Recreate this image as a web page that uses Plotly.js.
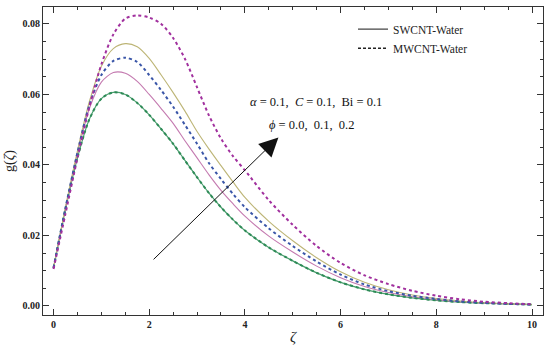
<!DOCTYPE html>
<html>
<head>
<meta charset="utf-8">
<script src="https://cdn.plot.ly/plotly-3.0.1.min.js"></script>
<style>html,body{margin:0;padding:0;background:#fff;}#chart{width:550px;height:350px;}</style>
</head>
<body>
<div id="chart"></div>
<script>
// zeta grid
var zeta = [0, 0.25, 0.5, 0.75, 1.0, 1.25, 1.5, 1.75, 2.0, 2.25, 2.5, 2.75, 3.0, 3.25, 3.5, 3.75, 4.0, 4.5, 5.0, 5.5, 6.0, 6.5, 7.0, 7.5, 8.0, 8.5, 9.0, 9.5, 10];

// SWCNT-Water (solid)
var sw_phi00 = [0.0108, 0.0275, 0.0420, 0.0530, 0.0588, 0.0606, 0.0600, 0.0576, 0.0542, 0.0502, 0.0460, 0.0412, 0.0365, 0.0320, 0.0280, 0.0245, 0.0214, 0.0166, 0.0128, 0.0094, 0.0067, 0.0047, 0.0033, 0.0023, 0.0016, 0.0011, 0.0008, 0.0006, 0.0004];
var sw_phi01 = [0.0108, 0.0278, 0.0432, 0.0560, 0.0635, 0.0662, 0.0660, 0.0637, 0.0600, 0.0560, 0.0518, 0.0468, 0.0420, 0.0372, 0.0328, 0.0290, 0.0255, 0.0198, 0.0153, 0.0113, 0.0080, 0.0055, 0.0038, 0.0026, 0.0018, 0.0012, 0.0008, 0.0006, 0.0004];
var sw_phi02 = [0.0108, 0.0280, 0.0440, 0.0580, 0.0680, 0.0730, 0.0744, 0.0735, 0.0702, 0.0655, 0.0605, 0.0552, 0.0495, 0.0445, 0.0398, 0.0352, 0.0308, 0.0240, 0.0185, 0.0137, 0.0097, 0.0067, 0.0046, 0.0031, 0.0021, 0.0014, 0.0009, 0.0006, 0.0004];

// MWCNT-Water (dashed)
var mw_phi00 = sw_phi00.slice();
var mw_phi01 = [0.0108, 0.0278, 0.0435, 0.0570, 0.0655, 0.0695, 0.0704, 0.0692, 0.0655, 0.0612, 0.0565, 0.0513, 0.0460, 0.0405, 0.0360, 0.0318, 0.0280, 0.0220, 0.0170, 0.0126, 0.0089, 0.0061, 0.0042, 0.0029, 0.0020, 0.0013, 0.0009, 0.0006, 0.0004];
var mw_phi02 = [0.0105, 0.0262, 0.0420, 0.0565, 0.0685, 0.0770, 0.0815, 0.0824, 0.0818, 0.0800, 0.0760, 0.0700, 0.0620, 0.0540, 0.0475, 0.0425, 0.0385, 0.0300, 0.0230, 0.0170, 0.0122, 0.0087, 0.0062, 0.0043, 0.0029, 0.0019, 0.0012, 0.0008, 0.0005];

var legendNames = ['SWCNT-Water', 'MWCNT-Water'];
var xTicks = [0, 2, 4, 6, 8, 10];
var yTicks = [0.00, 0.02, 0.04, 0.06, 0.08];

function curve(y, color, dash, width) {
  return {x: zeta, y: y, type: 'scatter', mode: 'lines',
    line: {color: color, width: width, dash: dash, shape: 'spline', smoothing: 0.8},
    showlegend: false, hoverinfo: 'skip'};
}

var traces = [
  curve(sw_phi00, '#4a9e6e', 'solid', 1.2),
  curve(sw_phi01, '#c47ab0', 'solid', 1.1),
  curve(sw_phi02, '#bdb576', 'solid', 1.1),
  curve(mw_phi00, '#2e8b57', 'dot', 2),
  curve(mw_phi01, '#3a56a8', 'dot', 2),
  curve(mw_phi02, '#a1309e', 'dot', 2),
  {x: [null], y: [null], type: 'scatter', mode: 'lines', name: legendNames[0],
    line: {color: '#444', width: 1.2, dash: 'solid'}},
  {x: [null], y: [null], type: 'scatter', mode: 'lines', name: legendNames[1],
    line: {color: '#222', width: 1.4, dash: '3px,2px'}}
];

var tickFont = {family: 'Liberation Serif, Times New Roman, serif', size: 10, color: '#222', weight: 'bold'};

var layout = {
  width: 550, height: 350,
  margin: {l: 43, r: 7, t: 7, b: 35},
  paper_bgcolor: '#fff', plot_bgcolor: '#fff',
  font: {family: 'Liberation Serif, Times New Roman, serif', color: '#222'},
  xaxis: {
    range: [-0.22, 10.23], tickvals: xTicks, ticktext: xTicks.map(String),
    ticks: 'inside', ticklen: 6, tickwidth: 1, tickcolor: '#333',
    showline: true, linecolor: '#333', linewidth: 1, mirror: 'ticks',
    showgrid: false, zeroline: false, tickfont: tickFont,
    minor: {dtick: 0.5, tick0: 0, ticks: 'inside', ticklen: 3, tickcolor: '#333', showgrid: false},
    title: {text: '<i>ζ</i>', font: {family: 'Liberation Serif, serif', size: 15, color: '#222'}, standoff: 2}
  },
  yaxis: {
    range: [-0.00256, 0.0848], tickvals: yTicks, ticktext: yTicks.map(function(v){return v.toFixed(2);}),
    ticks: 'inside', ticklen: 6, tickwidth: 1, tickcolor: '#333',
    showline: true, linecolor: '#333', linewidth: 1, mirror: 'ticks',
    showgrid: false, zeroline: false, tickfont: tickFont,
    minor: {dtick: 0.005, tick0: 0, ticks: 'inside', ticklen: 3, tickcolor: '#333', showgrid: false},
    title: {text: 'g(<i>ζ</i>)', font: {family: 'Liberation Serif, serif', size: 14, color: '#222'}, standoff: 4}
  },
  legend: {x: 0.62, y: 0.975, xanchor: 'left', yanchor: 'top', bgcolor: 'rgba(0,0,0,0)',
    font: {family: 'Liberation Serif, Times New Roman, serif', size: 11.5, color: '#222'},
    tracegroupgap: 0, itemwidth: 30},
  annotations: [
    {x: 4.70, y: 0.0478, ax: 2.06, ay: 0.0128, axref: 'x', ayref: 'y', xref: 'x', yref: 'y',
      showarrow: true, arrowhead: 2, arrowsize: 3.8, arrowwidth: 1, arrowcolor: '#111', text: ''},
    {xref: 'paper', yref: 'paper', x: 0.545, y: 0.690, xanchor: 'center', yanchor: 'middle', showarrow: false,
      text: '<i>α</i> = 0.1,  <i>C</i> = 0.1,  Bi = 0.1', font: {family: 'Liberation Serif, serif', size: 12.5, color: '#111'}},
    {xref: 'paper', yref: 'paper', x: 0.537, y: 0.618, xanchor: 'center', yanchor: 'middle', showarrow: false,
      text: '<i>ϕ</i> = 0.0,  0.1,  0.2', font: {family: 'Liberation Serif, serif', size: 12.5, color: '#111'}}
  ]
};

Plotly.newPlot('chart', traces, layout, {displayModeBar: false, staticPlot: true});
</script>
</body>
</html>
